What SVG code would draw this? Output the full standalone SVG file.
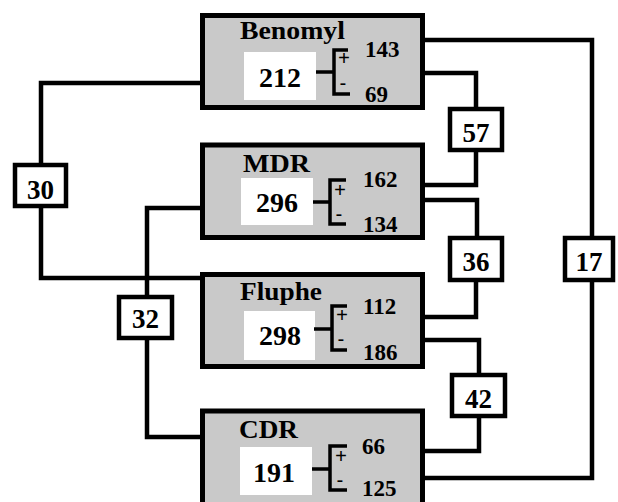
<svg xmlns="http://www.w3.org/2000/svg" width="618" height="502" viewBox="0 0 618 502">
<style>
.box{fill:#c9c9c9;stroke:#000;stroke-width:5}
.inner{fill:#fff}
.lbl{fill:#fff;stroke:#000;stroke-width:4.5}
.con{fill:none;stroke:#000;stroke-width:4.5;stroke-linejoin:miter;stroke-linecap:square}
.br{fill:none;stroke:#000;stroke-width:3.5}
text{font-family:"Liberation Serif","Times New Roman",serif;font-weight:bold;fill:#000}
.title{font-size:25px}
.big{font-size:28px;text-anchor:middle}
.sm{font-size:23px}
.plus{font-size:21px;text-anchor:middle}
.minus{font-size:19px;text-anchor:middle}
.num{font-size:27px;text-anchor:middle}
</style>
<rect width="618" height="502" fill="#fff"/>
<g id="connectors">
<path class="con" d="M422.5,40 H592 V238"/>
<path class="con" d="M592,280 V478 H422.5"/>
<path class="con" d="M422.5,73 H476 V109"/>
<path class="con" d="M476,150 V185 H422.5"/>
<path class="con" d="M422.5,200 H477 V238"/>
<path class="con" d="M476,280 V317 H422.5"/>
<path class="con" d="M422.5,340 H479 V375"/>
<path class="con" d="M479,416 V451 H422.5"/>
<path class="con" d="M202.5,83 H41 V165"/>
<path class="con" d="M41,206 V278 H202.5"/>
<path class="con" d="M202.5,208 H147 V297"/>
<path class="con" d="M147,338 V437 H202.5"/>
</g>
<g id="benomyl">
<rect class="box" x="202.5" y="15.5" width="220" height="92"/>
<text class="title" x="240" y="39" textLength="105" lengthAdjust="spacingAndGlyphs">Benomyl</text>
<rect class="inner" x="244" y="52" width="72" height="48"/>
<text class="big" x="280" y="87">212</text>
<path class="br" d="M316,72 H334 M348,50 H334 V94 H350"/>
<text class="plus" x="344" y="65">+</text>
<text class="minus" x="343" y="89">-</text>
<text class="sm" x="365" y="57">143</text>
<text class="sm" x="365" y="102">69</text>
</g>
<g id="mdr">
<rect class="box" x="202.5" y="145" width="220" height="92.5"/>
<text class="title" x="243" y="172" textLength="67" lengthAdjust="spacingAndGlyphs">MDR</text>
<rect class="inner" x="241" y="178" width="72" height="47"/>
<text class="big" x="277" y="212">296</text>
<path class="br" d="M313,202 H330 M346,180 H330 V224 H346"/>
<text class="plus" x="340" y="197">+</text>
<text class="minus" x="339" y="220">-</text>
<text class="sm" x="363" y="187">162</text>
<text class="sm" x="363" y="232">134</text>
</g>
<g id="fluphe">
<rect class="box" x="202.5" y="274.5" width="220" height="92"/>
<text class="title" x="240" y="300" textLength="82" lengthAdjust="spacingAndGlyphs">Fluphe</text>
<rect class="inner" x="244" y="311" width="71" height="49"/>
<text class="big" x="280" y="345">298</text>
<path class="br" d="M314,329 H332 M347,306 H332 V350 H347"/>
<text class="plus" x="342" y="322">+</text>
<text class="minus" x="341" y="345">-</text>
<text class="sm" x="363" y="314">112</text>
<text class="sm" x="363" y="360">186</text>
</g>
<g id="cdr">
<rect class="box" x="202.5" y="411" width="220" height="95"/>
<text class="title" x="239" y="438" textLength="59" lengthAdjust="spacingAndGlyphs">CDR</text>
<rect class="inner" x="240" y="447" width="72" height="48"/>
<text class="big" x="274" y="482">191</text>
<path class="br" d="M312,469 H330 M347,446 H330 V490 H347"/>
<text class="plus" x="341" y="463">+</text>
<text class="minus" x="340" y="486">-</text>
<text class="sm" x="362" y="454">66</text>
<text class="sm" x="362" y="496">125</text>
</g>
<g id="n57"><rect class="lbl" x="450" y="109" width="52" height="41"/><text class="num" x="476" y="142">57</text></g>
<g id="n36"><rect class="lbl" x="450" y="238" width="52" height="42"/><text class="num" x="476" y="271">36</text></g>
<g id="n42"><rect class="lbl" x="452" y="375" width="53" height="41"/><text class="num" x="478.5" y="408">42</text></g>
<g id="n17"><rect class="lbl" x="565" y="238" width="48" height="42"/><text class="num" x="589" y="271">17</text></g>
<g id="n30"><rect class="lbl" x="15" y="165" width="51" height="41"/><text class="num" x="40.5" y="199">30</text></g>
<g id="n32"><rect class="lbl" x="119" y="297" width="53" height="41"/><text class="num" x="145.5" y="328">32</text></g>
</svg>
